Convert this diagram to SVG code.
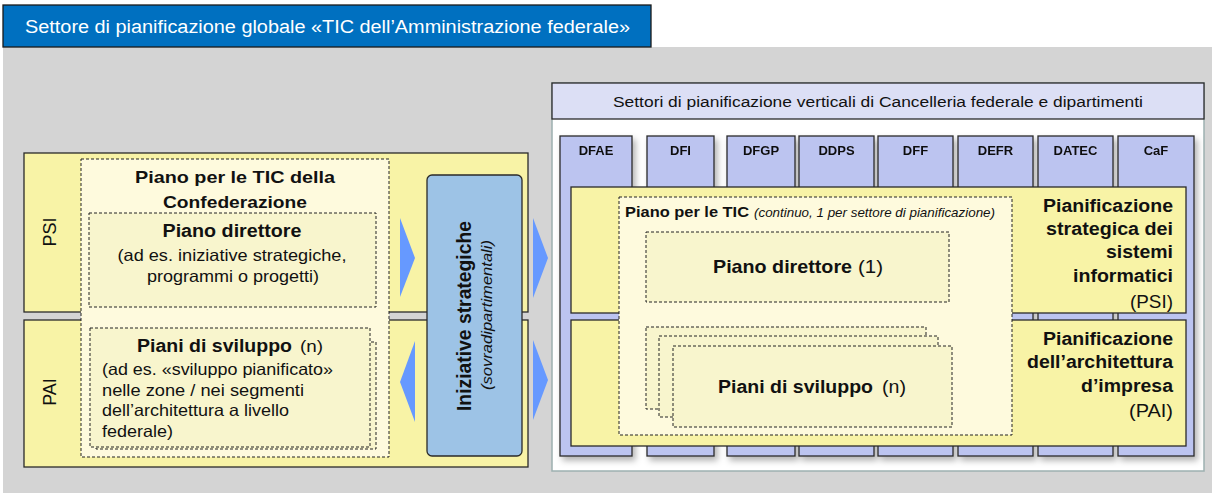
<svg xmlns="http://www.w3.org/2000/svg" width="1212" height="493" viewBox="0 0 1212 493">
<style>
text{font-family:"Liberation Sans",Arial,sans-serif;fill:#111}
.b{font-weight:bold}
.i{font-style:italic}
.solid{stroke:#2a2a2a;stroke-width:1.3}
.dash{stroke:#222;stroke-width:1;stroke-dasharray:3,2}
.band{fill:#F8F3A6}
.cream{fill:#FEFADD}
.inner{fill:#F8F5CD}
.col{fill:#BCC4F0;stroke:#2a2a2a;stroke-width:1.3}
.tri{fill:#6699FF}
</style>
<defs>
<filter id="sh" x="-20%" y="-10%" width="150%" height="130%">
<feDropShadow dx="3" dy="4" stdDeviation="3" flood-color="#000" flood-opacity="0.3"/>
</filter>
</defs>
<rect x="0" y="0" width="1212" height="493" fill="#fff"/>
<rect x="3" y="47" width="1209" height="446" fill="#D4D4D4"/>
<g id="title">
<rect x="3" y="5" width="648" height="42" fill="#0070C0" stroke="#1a1a1a" stroke-width="1.3"/>
<text x="25" y="33" font-size="18" textLength="605" lengthAdjust="spacingAndGlyphs" style="fill:#fff">Settore di pianificazione globale «TIC dell’Amministrazione federale»</text>
</g>
<g id="left-psi">
<rect class="band solid" x="24" y="153" width="504" height="159"/>
<text transform="translate(56,232) rotate(-90)" font-size="18" text-anchor="middle">PSI</text>
</g>
<g id="left-pai">
<rect class="band solid" x="24" y="320" width="504" height="147"/>
<text transform="translate(56,392) rotate(-90)" font-size="18" text-anchor="middle">PAI</text>
</g>
<g id="piano-tic-confederazione">
<rect class="cream dash" x="81" y="159" width="308" height="298"/>
<text class="b" x="235" y="183" font-size="17" text-anchor="middle" textLength="200" lengthAdjust="spacingAndGlyphs">Piano per le TIC della</text>
<text class="b" x="235" y="208" font-size="17" text-anchor="middle" textLength="144" lengthAdjust="spacingAndGlyphs">Confederazione</text>
</g>
<g id="piano-direttore-left">
<rect class="inner dash" x="89" y="213" width="287" height="94"/>
<text class="b" x="232" y="237" font-size="17.5" text-anchor="middle" textLength="139" lengthAdjust="spacingAndGlyphs">Piano direttore</text>
<text x="232" y="261" font-size="16.5" text-anchor="middle" textLength="229" lengthAdjust="spacingAndGlyphs">(ad es. iniziative strategiche,</text>
<text x="233" y="282" font-size="16.5" text-anchor="middle" textLength="172" lengthAdjust="spacingAndGlyphs">programmi o progetti)</text>
</g>
<g id="piani-sviluppo-left">
<rect class="inner dash" x="96" y="342" width="280" height="107"/>
<rect class="inner dash" x="90" y="328" width="280" height="119"/>
<text class="b" x="137" y="352" font-size="17.5" textLength="155" lengthAdjust="spacingAndGlyphs">Piani di sviluppo</text>
<text x="300" y="352" font-size="16.5" textLength="23" lengthAdjust="spacingAndGlyphs">(n)</text>
<text x="102" y="375" font-size="16.5" textLength="231" lengthAdjust="spacingAndGlyphs">(ad es. «sviluppo pianificato»</text>
<text x="102" y="396" font-size="16.5" textLength="202" lengthAdjust="spacingAndGlyphs">nelle zone / nei segmenti</text>
<text x="102" y="416" font-size="16.5" textLength="187" lengthAdjust="spacingAndGlyphs">dell’architettura a livello</text>
<text x="102" y="437" font-size="16.5" textLength="71" lengthAdjust="spacingAndGlyphs">federale)</text>
</g>
<g id="iniziative-strategiche">
<rect x="427" y="175" width="95" height="281" rx="5" fill="#9DC3E6" stroke="#2a2a2a" stroke-width="1.3"/>
<text class="b" transform="translate(471,316) rotate(-90)" font-size="19.5" text-anchor="middle" textLength="190" lengthAdjust="spacingAndGlyphs">Iniziative strategiche</text>
<text class="i" transform="translate(492,315) rotate(-90)" font-size="14.5" text-anchor="middle" textLength="150" lengthAdjust="spacingAndGlyphs">(sovradipartimentali)</text>
</g>
<g id="right-panel">
<rect x="552" y="83" width="652" height="388" fill="#fff" stroke="#9DB0B0" stroke-width="1.5"/>
</g>
<g id="header-verticali">
<rect x="552" y="83" width="652" height="36" fill="#DCDFF5" stroke="#2a2a2a" stroke-width="1.3"/>
<text x="878" y="107" font-size="15.5" text-anchor="middle" textLength="530" lengthAdjust="spacingAndGlyphs">Settori di pianificazione verticali di Cancelleria federale e dipartimenti</text>
</g>
<g id="columns" filter="url(#sh)">
<g id="col-DFAE"><rect class="col" x="560" y="136" width="72" height="320"/><text class="b" x="596" y="155" font-size="13" text-anchor="middle">DFAE</text></g>
<g id="col-DFI"><rect class="col" x="647" y="136" width="67" height="320"/><text class="b" x="680.5" y="155" font-size="13" text-anchor="middle">DFI</text></g>
<g id="col-DFGP"><rect class="col" x="727" y="136" width="68" height="320"/><text class="b" x="761" y="155" font-size="13" text-anchor="middle">DFGP</text></g>
<g id="col-DDPS"><rect class="col" x="799" y="136" width="75" height="320"/><text class="b" x="836.5" y="155" font-size="13" text-anchor="middle">DDPS</text></g>
<g id="col-DFF"><rect class="col" x="878" y="136" width="75" height="320"/><text class="b" x="915.5" y="155" font-size="13" text-anchor="middle">DFF</text></g>
<g id="col-DEFR"><rect class="col" x="958" y="136" width="75" height="320"/><text class="b" x="995.5" y="155" font-size="13" text-anchor="middle">DEFR</text></g>
<g id="col-DATEC"><rect class="col" x="1038" y="136" width="75" height="320"/><text class="b" x="1075.5" y="155" font-size="13" text-anchor="middle">DATEC</text></g>
<g id="col-CaF"><rect class="col" x="1118" y="136" width="76" height="320"/><text class="b" x="1156" y="155" font-size="13" text-anchor="middle">CaF</text></g>
</g>
<g id="right-psi">
<rect class="band solid" x="571" y="187" width="615" height="126"/>
<text class="b" x="1173" y="212" font-size="17.5" text-anchor="end" textLength="130" lengthAdjust="spacingAndGlyphs">Pianificazione</text>
<text class="b" x="1173" y="235" font-size="17.5" text-anchor="end" textLength="127" lengthAdjust="spacingAndGlyphs">strategica dei</text>
<text class="b" x="1173" y="258" font-size="17.5" text-anchor="end" textLength="67" lengthAdjust="spacingAndGlyphs">sistemi</text>
<text class="b" x="1173" y="282" font-size="17.5" text-anchor="end" textLength="100" lengthAdjust="spacingAndGlyphs">informatici</text>
<text x="1173" y="308" font-size="17.5" text-anchor="end" textLength="43" lengthAdjust="spacingAndGlyphs">(PSI)</text>
</g>
<g id="right-pai">
<rect class="band solid" x="571" y="320" width="615" height="126"/>
<text class="b" x="1173" y="345" font-size="17.5" text-anchor="end" textLength="130" lengthAdjust="spacingAndGlyphs">Pianificazione</text>
<text class="b" x="1173" y="368" font-size="17.5" text-anchor="end" textLength="146" lengthAdjust="spacingAndGlyphs">dell’architettura</text>
<text class="b" x="1173" y="392" font-size="17.5" text-anchor="end" textLength="92" lengthAdjust="spacingAndGlyphs">d’impresa</text>
<text x="1173" y="417" font-size="17.5" text-anchor="end" textLength="44" lengthAdjust="spacingAndGlyphs">(PAI)</text>
</g>
<g id="piano-tic-settore">
<rect class="cream dash" x="619" y="197" width="393" height="238"/>
<text class="b" x="625" y="217" font-size="15" textLength="124" lengthAdjust="spacingAndGlyphs">Piano per le TIC</text>
<text class="i" x="754" y="217" font-size="13" textLength="241" lengthAdjust="spacingAndGlyphs">(continuo, 1 per settore di pianificazione)</text>
</g>
<g id="piano-direttore-right">
<rect class="inner dash" x="646" y="232" width="303" height="70"/>
<text class="b" x="713" y="273" font-size="19" textLength="139" lengthAdjust="spacingAndGlyphs">Piano direttore</text>
<text x="858" y="273" font-size="19" textLength="25" lengthAdjust="spacingAndGlyphs">(1)</text>
</g>
<g id="piani-sviluppo-right">
<rect class="inner dash" x="646" y="327" width="280" height="82"/>
<rect class="inner dash" x="659" y="336" width="279" height="81"/>
<rect class="inner dash" x="673" y="346" width="279" height="81"/>
<text class="b" x="718" y="393" font-size="17.5" textLength="155" lengthAdjust="spacingAndGlyphs">Piani di sviluppo</text>
<text x="882" y="393" font-size="17.5" textLength="24" lengthAdjust="spacingAndGlyphs">(n)</text>
</g>
<g id="connectors">
<polygon class="tri" points="400,218 415,258 400,297"/>
<polygon class="tri" points="415,341 400,382 415,422"/>
<polygon class="tri" points="533,218 548,258 533,298"/>
<polygon class="tri" points="533,340 548,380 533,420"/>
</g>
</svg>
